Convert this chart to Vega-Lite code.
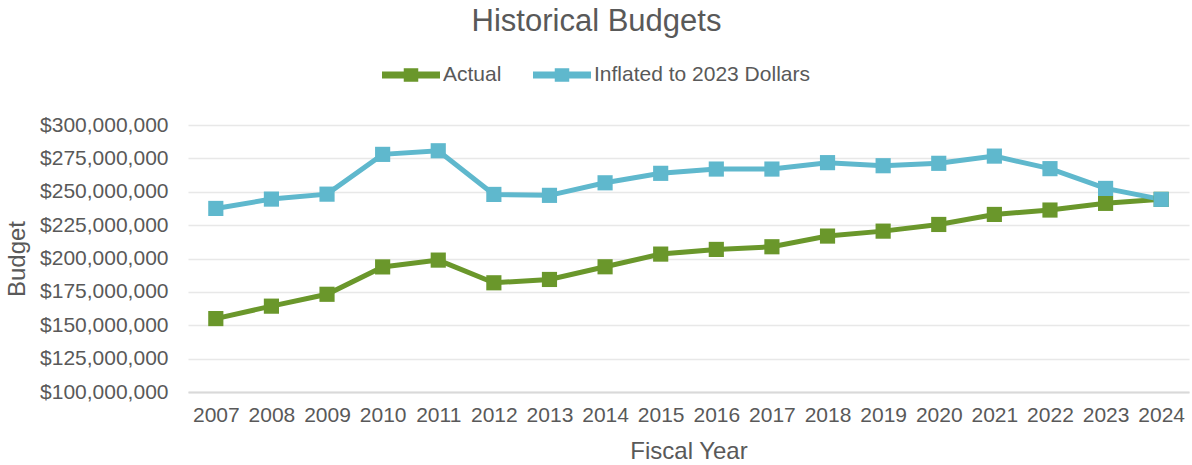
{
  "$schema": "https://vega.github.io/schema/vega-lite/v6.json",
  "width": 1001,
  "height": 267,
  "autosize": {"type": "none"},
  "padding": {"left": 188, "top": 125, "right": 3, "bottom": 73},
  "background": "white",
  "title": {
    "text": "Historical Budgets",
    "font": "Liberation Sans",
    "fontSize": 31,
    "fontWeight": "normal",
    "color": "#595959",
    "anchor": "middle",
    "frame": "group",
    "dx": -92,
    "offset": 8
  },
  "config": {
    "view": {"stroke": null},
    "font": "Liberation Sans",
    "axis": {
      "labelFont": "Liberation Sans",
      "labelFontSize": 21,
      "labelColor": "#595959",
      "titleFont": "Liberation Sans",
      "titleFontSize": 24,
      "titleFontWeight": "normal",
      "titleColor": "#595959",
      "ticks": false
    }
  },
  "data": {
    "values": [
      {"year": "2007", "series": "Actual", "budget": 155000000},
      {"year": "2008", "series": "Actual", "budget": 164300000},
      {"year": "2009", "series": "Actual", "budget": 173200000},
      {"year": "2010", "series": "Actual", "budget": 193700000},
      {"year": "2011", "series": "Actual", "budget": 198800000},
      {"year": "2012", "series": "Actual", "budget": 181800000},
      {"year": "2013", "series": "Actual", "budget": 184300000},
      {"year": "2014", "series": "Actual", "budget": 193800000},
      {"year": "2015", "series": "Actual", "budget": 203300000},
      {"year": "2016", "series": "Actual", "budget": 206800000},
      {"year": "2017", "series": "Actual", "budget": 208800000},
      {"year": "2018", "series": "Actual", "budget": 216800000},
      {"year": "2019", "series": "Actual", "budget": 220500000},
      {"year": "2020", "series": "Actual", "budget": 225500000},
      {"year": "2021", "series": "Actual", "budget": 233000000},
      {"year": "2022", "series": "Actual", "budget": 236300000},
      {"year": "2023", "series": "Actual", "budget": 241300000},
      {"year": "2024", "series": "Actual", "budget": 244300000},
      {"year": "2007", "series": "Inflated to 2023 Dollars", "budget": 237500000},
      {"year": "2008", "series": "Inflated to 2023 Dollars", "budget": 244500000},
      {"year": "2009", "series": "Inflated to 2023 Dollars", "budget": 248200000},
      {"year": "2010", "series": "Inflated to 2023 Dollars", "budget": 278000000},
      {"year": "2011", "series": "Inflated to 2023 Dollars", "budget": 280700000},
      {"year": "2012", "series": "Inflated to 2023 Dollars", "budget": 248000000},
      {"year": "2013", "series": "Inflated to 2023 Dollars", "budget": 247300000},
      {"year": "2014", "series": "Inflated to 2023 Dollars", "budget": 256700000},
      {"year": "2015", "series": "Inflated to 2023 Dollars", "budget": 263800000},
      {"year": "2016", "series": "Inflated to 2023 Dollars", "budget": 267000000},
      {"year": "2017", "series": "Inflated to 2023 Dollars", "budget": 267000000},
      {"year": "2018", "series": "Inflated to 2023 Dollars", "budget": 271800000},
      {"year": "2019", "series": "Inflated to 2023 Dollars", "budget": 269500000},
      {"year": "2020", "series": "Inflated to 2023 Dollars", "budget": 271300000},
      {"year": "2021", "series": "Inflated to 2023 Dollars", "budget": 276700000},
      {"year": "2022", "series": "Inflated to 2023 Dollars", "budget": 267300000},
      {"year": "2023", "series": "Inflated to 2023 Dollars", "budget": 252500000},
      {"year": "2024", "series": "Inflated to 2023 Dollars", "budget": 244300000}
    ]
  },
  "mark": {
    "type": "line",
    "strokeWidth": 5,
    "point": {"shape": "square", "filled": true, "size": 230, "opacity": 1}
  },
  "encoding": {
    "x": {
      "field": "year",
      "type": "ordinal",
      "title": "Fiscal Year",
      "scale": {"type": "point", "padding": 0.5},
      "axis": {
        "labelAngle": 0,
        "labelPadding": 12,
        "grid": false,
        "domain": true,
        "domainColor": "#d9d9d9",
        "domainWidth": 2,
        "titlePadding": 14
      }
    },
    "y": {
      "field": "budget",
      "type": "quantitative",
      "title": "Budget",
      "scale": {"domain": [100000000, 300000000], "nice": false, "zero": false},
      "axis": {
        "values": [100000000, 125000000, 150000000, 175000000, 200000000, 225000000, 250000000, 275000000, 300000000],
        "format": "$,.0f",
        "labelPadding": 20,
        "domain": false,
        "grid": true,
        "gridColor": "#e8e8e8",
        "gridWidth": 1.5,
        "titlePadding": 10
      }
    },
    "color": {
      "field": "series",
      "type": "nominal",
      "scale": {"domain": ["Actual", "Inflated to 2023 Dollars"], "range": ["#6a972b", "#5fb8cd"]},
      "legend": {
        "title": null,
        "orient": "none",
        "direction": "horizontal",
        "legendX": 194,
        "legendY": -79,
        "padding": 0,
        "symbolType": "M-1,-0.12H-0.25V-0.23H0.25V-0.12H1V0.12H0.25V0.23H-0.25V0.12H-1Z",
        "symbolSize": 3364,
        "symbolStrokeWidth": 0,
        "labelFont": "Liberation Sans",
        "labelFontSize": 21,
        "labelColor": "#595959",
        "labelOffset": 3,
        "labelLimit": 400,
        "columnPadding": 31,
        "encode": {
          "symbols": {"update": {"fill": {"scale": "color", "field": "value"}, "opacity": {"value": 1}}}
        }
      }
    }
  }
}
